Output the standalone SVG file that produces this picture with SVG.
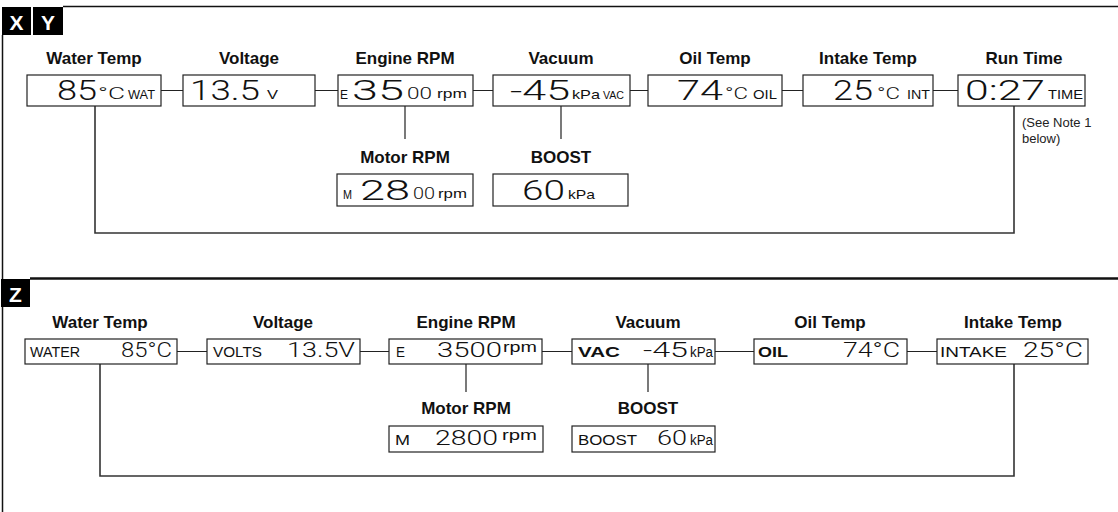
<svg xmlns="http://www.w3.org/2000/svg" width="1118" height="512" viewBox="0 0 1118 512">
<style>
.lbl{font-family:"Liberation Sans",Arial,sans-serif;font-weight:bold;font-size:17px;text-anchor:middle;fill:#111}
.tag{font-family:"Liberation Sans",Arial,sans-serif;font-weight:bold;font-size:21px;fill:#fff;text-anchor:middle}
.d{font-family:"Liberation Sans",Arial,sans-serif;fill:#111}
.big{font-family:Roboto,"Liberation Sans",sans-serif;font-weight:300;font-size:28px}
.med{font-family:Roboto,"Liberation Sans",sans-serif;font-weight:300;font-size:17px}
.sml{font-size:13px}
.zd{font-family:Roboto,"Liberation Sans",sans-serif;font-weight:300;font-size:20px}
.zs{font-size:14px}
.note{font-family:"Liberation Sans",Arial,sans-serif;font-size:13px;fill:#222}
.box{fill:#fff;stroke:#222;stroke-width:1.2}
.wire{fill:none;stroke:#222;stroke-width:1.2}
.ret{fill:none;stroke:#333;stroke-width:1.6}
.frame{fill:none;stroke:#111}
</style>

<g id="frame">
  <rect x="2" y="7" width="29" height="28" fill="#000"/>
  <text class="tag" x="16.5" y="30">X</text>
  <rect x="33" y="7" width="30" height="28" fill="#000"/>
  <text class="tag" x="48" y="30">Y</text>
  <line class="frame" x1="63" y1="6.5" x2="1118" y2="6.5" stroke-width="1.5"/>
  <line class="frame" x1="2.5" y1="35" x2="2.5" y2="512" stroke-width="1.5"/>
  <line class="frame" x1="30" y1="278.5" x2="1118" y2="278.5" stroke-width="2.5"/>
  <rect x="1" y="279" width="29" height="28" fill="#000"/>
  <text class="tag" x="15.5" y="302">Z</text>
</g>

<g id="connectors">
  <path class="wire" d="M161 90.5H183M315 90.5H338M473 90.5H493M630 90.5H648M782 90.5H803M933 90.5H958"/>
  <path class="wire" d="M405 106V139M561 106V139"/>
  <path class="ret" d="M95 106V233H1014V106"/>
  <path class="wire" d="M177 351.5H207M360 351.5H389M542 351.5H572M715 351.5H754M907 351.5H937"/>
  <path class="wire" d="M466 364V392M648 364V392"/>
  <path class="ret" d="M100 364V476H1014V364"/>
</g>

<g id="y-water">
  <text class="lbl" x="94" y="64">Water Temp</text>
  <rect class="box" x="27" y="75" width="134" height="31"/>
  <text class="d big" x="57" y="99.5" textLength="40" lengthAdjust="spacingAndGlyphs">85</text>
  <text class="d med" x="98" y="99" textLength="27" lengthAdjust="spacingAndGlyphs">°C</text>
  <text class="d sml" x="128" y="99" textLength="27" lengthAdjust="spacingAndGlyphs">WAT</text>
</g>
<g id="y-voltage">
  <text class="lbl" x="249" y="64">Voltage</text>
  <rect class="box" x="183" y="75" width="132" height="31"/>
  <text class="d big" x="190" y="99.5" textLength="70" lengthAdjust="spacingAndGlyphs">13.5</text>
  <text class="d sml" x="267" y="99" textLength="11" lengthAdjust="spacingAndGlyphs">V</text>
</g>
<g id="y-engine">
  <text class="lbl" x="405" y="64">Engine RPM</text>
  <rect class="box" x="338" y="75" width="135" height="31"/>
  <text class="d sml" x="340" y="99" textLength="8" lengthAdjust="spacingAndGlyphs">E</text>
  <text class="d big" x="352" y="99.5" textLength="52" lengthAdjust="spacingAndGlyphs">35</text>
  <text class="d med" x="407" y="99" textLength="25" lengthAdjust="spacingAndGlyphs">00</text>
  <text class="d sml" x="437" y="98" textLength="30" lengthAdjust="spacingAndGlyphs">rpm</text>
</g>
<g id="y-vacuum">
  <text class="lbl" x="561" y="64">Vacuum</text>
  <rect class="box" x="493" y="75" width="137" height="31"/>
  <text class="d big" x="510" y="99.5" textLength="60" lengthAdjust="spacingAndGlyphs">-45</text>
  <text class="d sml" x="572" y="99" textLength="28" lengthAdjust="spacingAndGlyphs">kPa</text>
  <text class="d" font-size="11" x="603" y="99" textLength="21" lengthAdjust="spacingAndGlyphs">VAC</text>
</g>
<g id="y-oil">
  <text class="lbl" x="715" y="64">Oil Temp</text>
  <rect class="box" x="648" y="75" width="134" height="31"/>
  <text class="d big" x="677" y="99.5" textLength="46" lengthAdjust="spacingAndGlyphs">74</text>
  <text class="d med" x="725" y="99" textLength="23" lengthAdjust="spacingAndGlyphs">°C</text>
  <text class="d sml" x="753" y="99" textLength="24" lengthAdjust="spacingAndGlyphs">OIL</text>
</g>
<g id="y-intake">
  <text class="lbl" x="868" y="64">Intake Temp</text>
  <rect class="box" x="803" y="75" width="130" height="31"/>
  <text class="d big" x="833" y="99.5" textLength="40" lengthAdjust="spacingAndGlyphs">25</text>
  <text class="d med" x="877" y="99" textLength="23" lengthAdjust="spacingAndGlyphs">°C</text>
  <text class="d sml" x="907" y="99" textLength="23" lengthAdjust="spacingAndGlyphs">INT</text>
</g>
<g id="y-runtime">
  <text class="lbl" x="1024" y="64">Run Time</text>
  <rect class="box" x="958" y="75" width="127" height="31"/>
  <text class="d big" x="965" y="99.5" textLength="80" lengthAdjust="spacingAndGlyphs">0:27</text>
  <text class="d sml" x="1048" y="99" textLength="35" lengthAdjust="spacingAndGlyphs">TIME</text>
  <text class="note" x="1022" y="127">(See Note 1</text>
  <text class="note" x="1022" y="143">below)</text>
</g>
<g id="y-motor">
  <text class="lbl" x="405" y="163">Motor RPM</text>
  <rect class="box" x="337" y="174" width="136" height="32"/>
  <text class="d sml" x="343" y="199" textLength="9" lengthAdjust="spacingAndGlyphs">M</text>
  <text class="d big" x="360" y="199.5" textLength="50" lengthAdjust="spacingAndGlyphs">28</text>
  <text class="d med" x="413" y="199" textLength="22" lengthAdjust="spacingAndGlyphs">00</text>
  <text class="d sml" x="438" y="198" textLength="29" lengthAdjust="spacingAndGlyphs">rpm</text>
</g>
<g id="y-boost">
  <text class="lbl" x="561" y="163">BOOST</text>
  <rect class="box" x="493" y="174" width="135" height="32"/>
  <text class="d big" x="522" y="199.5" textLength="43" lengthAdjust="spacingAndGlyphs">60</text>
  <text class="d sml" x="568" y="199" textLength="27" lengthAdjust="spacingAndGlyphs">kPa</text>
</g>

<g id="z-water">
  <text class="lbl" x="100" y="328">Water Temp</text>
  <rect class="box" x="25" y="339" width="152" height="25"/>
  <text class="d zs" x="30" y="357" textLength="50" lengthAdjust="spacingAndGlyphs">WATER</text>
  <text class="d zd" x="121" y="357" textLength="51" lengthAdjust="spacingAndGlyphs">85°C</text>
</g>
<g id="z-voltage">
  <text class="lbl" x="283" y="328">Voltage</text>
  <rect class="box" x="207" y="339" width="153" height="25"/>
  <text class="d zs" x="213" y="357" textLength="49" lengthAdjust="spacingAndGlyphs">VOLTS</text>
  <text class="d zd" x="287" y="357" textLength="68" lengthAdjust="spacingAndGlyphs">13.5V</text>
</g>
<g id="z-engine">
  <text class="lbl" x="466" y="328">Engine RPM</text>
  <rect class="box" x="389" y="339" width="153" height="25"/>
  <text class="d zs" x="396" y="357" textLength="9" lengthAdjust="spacingAndGlyphs">E</text>
  <text class="d zd" x="437" y="357" textLength="65" lengthAdjust="spacingAndGlyphs">3500</text>
  <text class="d zs" x="503" y="352" textLength="34" lengthAdjust="spacingAndGlyphs">rpm</text>
</g>
<g id="z-vacuum">
  <text class="lbl" x="648" y="328">Vacuum</text>
  <rect class="box" x="572" y="339" width="143" height="25"/>
  <text class="d zs" font-weight="bold" x="578" y="357" textLength="42" lengthAdjust="spacingAndGlyphs">VAC</text>
  <text class="d zd" x="643" y="357" textLength="45" lengthAdjust="spacingAndGlyphs">-45</text>
  <text class="d zs" x="690" y="357" textLength="23" lengthAdjust="spacingAndGlyphs">kPa</text>
</g>
<g id="z-oil">
  <text class="lbl" x="830" y="328">Oil Temp</text>
  <rect class="box" x="754" y="339" width="153" height="25"/>
  <text class="d zs" font-weight="bold" x="758" y="357" textLength="30" lengthAdjust="spacingAndGlyphs">OIL</text>
  <text class="d zd" x="843" y="357" textLength="57" lengthAdjust="spacingAndGlyphs">74°C</text>
</g>
<g id="z-intake">
  <text class="lbl" x="1013" y="328">Intake Temp</text>
  <rect class="box" x="937" y="339" width="151" height="25"/>
  <text class="d zs" x="940" y="357" textLength="67" lengthAdjust="spacingAndGlyphs">INTAKE</text>
  <text class="d zd" x="1023" y="357" textLength="60" lengthAdjust="spacingAndGlyphs">25°C</text>
</g>
<g id="z-motor">
  <text class="lbl" x="466" y="414">Motor RPM</text>
  <rect class="box" x="389" y="426" width="154" height="26"/>
  <text class="d zs" x="395" y="445" textLength="15" lengthAdjust="spacingAndGlyphs">M</text>
  <text class="d zd" x="435" y="445" textLength="63" lengthAdjust="spacingAndGlyphs">2800</text>
  <text class="d zs" x="502" y="440" textLength="35" lengthAdjust="spacingAndGlyphs">rpm</text>
</g>
<g id="z-boost">
  <text class="lbl" x="648" y="414">BOOST</text>
  <rect class="box" x="572" y="426" width="143" height="26"/>
  <text class="d zs" x="578" y="445" textLength="59" lengthAdjust="spacingAndGlyphs">BOOST</text>
  <text class="d zd" x="657" y="445" textLength="30" lengthAdjust="spacingAndGlyphs">60</text>
  <text class="d zs" x="690" y="445" textLength="23" lengthAdjust="spacingAndGlyphs">kPa</text>
</g>
</svg>
